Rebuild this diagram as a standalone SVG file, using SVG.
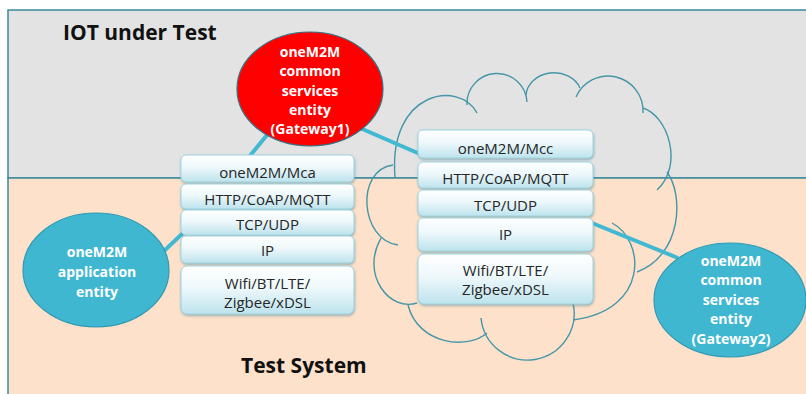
<svg xmlns="http://www.w3.org/2000/svg" width="806" height="394" viewBox="0 0 806 394">
  <defs>
    <linearGradient id="boxGrad" x1="0" y1="0" x2="0" y2="1">
      <stop offset="0" stop-color="#ffffff"/>
      <stop offset="0.45" stop-color="#eef8fb"/>
      <stop offset="1" stop-color="#bde3ed"/>
    </linearGradient>
    <filter id="shadow" x="-10%" y="-20%" width="120%" height="150%">
      <feDropShadow dx="0.5" dy="1.5" stdDeviation="1" flood-color="#4f8593" flood-opacity="0.55"/>
    </filter>
    <style>
      .frame { stroke: #3a8a9c; stroke-width: 1.5; }
      .cloud path { fill: none; stroke: #4596a8; stroke-width: 1.4; }
      .conn line { stroke: #41b9d2; stroke-width: 4; }
      .layer rect { fill: url(#boxGrad); stroke: #9fd4e1; stroke-width: 1; filter: url(#shadow); }
      text { font-family: "Open Sans", "Liberation Sans", sans-serif; }
      .lbl { font-size: 15px; fill: #262626; text-anchor: middle; }
      .ent { font-size: 14px; font-weight: 700; fill: #ffffff; text-anchor: middle; }
      .title { font-size: 21px; font-weight: 700; fill: #111111; }
      .cse-red { fill: #ff0000; stroke: #2f7384; stroke-width: 1.2; }
      .blue { fill: #3fb7d1; stroke: #2f9ab2; stroke-width: 1.2; }
    </style>
  </defs>

  <!-- zones -->
  <rect class="frame" x="8" y="10" width="810" height="168" fill="#e3e3e3"/>
  <rect class="frame" x="8" y="178" width="810" height="230" fill="#fde1ca"/>

  <!-- network cloud -->
  <g id="cloud" class="cloud">
    <path d="M395,177 C388,90 460,80 477,113"/>
    <path d="M467,105 A30,30 0 0 1 527,102"/>
    <path d="M526,95 A28,24 0 0 1 580,88"/>
    <path d="M576,97 A35,35 0 0 1 643,113"/>
    <path d="M643,108 C668,116 684,165 657,190"/>
    <path d="M667,172 C684,195 682,255 637,272"/>
    <path d="M612,223 C645,240 650,310 573,320"/>
    <path d="M573,303 A46.7,46.7 0 1 1 481,318"/>
    <path d="M487,333 C468,350 418,345 408,305"/>
    <path d="M417,303 C390,312 360,275 381,238"/>
    <path d="M398,245 C360,240 355,170 393,165"/>
  </g>

  <!-- connectors -->
  <g id="connectors" class="conn">
    <line x1="267" y1="135" x2="249" y2="157"/>
    <line x1="360" y1="128" x2="420" y2="154"/>
    <line x1="164" y1="251" x2="184" y2="232"/>
    <line x1="592" y1="223" x2="678" y2="258"/>
  </g>

  <!-- gateway 1 CSE -->
  <g id="cse-gateway1">
    <ellipse class="cse-red" cx="310" cy="89" rx="73" ry="57"/>
    <text class="ent" x="310" y="57">oneM2M</text>
    <text class="ent" x="310" y="76">common</text>
    <text class="ent" x="310" y="95.5">services</text>
    <text class="ent" x="310" y="115">entity</text>
    <text class="ent" x="310" y="134">(Gateway1)</text>
  </g>

  <!-- application entity -->
  <g id="app-entity">
    <ellipse class="blue" cx="96" cy="270" rx="73" ry="57"/>
    <text class="ent" x="97" y="257">oneM2M</text>
    <text class="ent" x="97" y="277">application</text>
    <text class="ent" x="97" y="297">entity</text>
  </g>

  <!-- gateway 2 CSE -->
  <g id="cse-gateway2">
    <ellipse class="blue" cx="730" cy="300" rx="76" ry="57"/>
    <text class="ent" x="731" y="266">oneM2M</text>
    <text class="ent" x="731" y="285">common</text>
    <text class="ent" x="731" y="305">services</text>
    <text class="ent" x="731" y="324">entity</text>
    <text class="ent" x="731" y="344">(Gateway2)</text>
  </g>

  <!-- protocol stack, IoT device side -->
  <g id="stack-left">
    <g id="left-mca" class="layer">
      <rect x="181" y="155" width="173" height="27" rx="5"/>
      <text class="lbl" x="267.5" y="177.5">oneM2M/Mca</text>
    </g>
    <g id="left-http" class="layer">
      <rect x="181" y="184" width="173" height="25" rx="5"/>
      <text class="lbl" x="267.5" y="204.5">HTTP/CoAP/MQTT</text>
    </g>
    <g id="left-tcp" class="layer">
      <rect x="181" y="210" width="173" height="25" rx="5"/>
      <text class="lbl" x="267.5" y="229.5">TCP/UDP</text>
    </g>
    <g id="left-ip" class="layer">
      <rect x="181" y="236" width="173" height="27" rx="5"/>
      <text class="lbl" x="267.5" y="256">IP</text>
    </g>
    <g id="left-phy" class="layer">
      <rect x="181" y="266" width="173" height="48" rx="6"/>
      <text class="lbl" x="267.5" y="288.5">Wifi/BT/LTE/</text>
      <text class="lbl" x="267.5" y="307.5">Zigbee/xDSL</text>
    </g>
  </g>

  <!-- protocol stack, network side -->
  <g id="stack-right">
    <g id="right-mcc" class="layer">
      <rect x="418" y="130" width="175" height="28" rx="5"/>
      <text class="lbl" x="505.5" y="153.5">oneM2M/Mcc</text>
    </g>
    <g id="right-http" class="layer">
      <rect x="418" y="162" width="175" height="26" rx="5"/>
      <text class="lbl" x="505.5" y="183.5">HTTP/CoAP/MQTT</text>
    </g>
    <g id="right-tcp" class="layer">
      <rect x="418" y="190" width="175" height="26" rx="5"/>
      <text class="lbl" x="505.5" y="210.5">TCP/UDP</text>
    </g>
    <g id="right-ip" class="layer">
      <rect x="418" y="218" width="175" height="33" rx="5"/>
      <text class="lbl" x="505.5" y="239.5">IP</text>
    </g>
    <g id="right-phy" class="layer">
      <rect x="418" y="254" width="175" height="50" rx="6"/>
      <text class="lbl" x="505.5" y="275.5">Wifi/BT/LTE/</text>
      <text class="lbl" x="505.5" y="294.5">Zigbee/xDSL</text>
    </g>
  </g>

  <!-- zone titles -->
  <text class="title" x="63" y="40">IOT under Test</text>
  <text class="title" x="241" y="373">Test System</text>
</svg>
